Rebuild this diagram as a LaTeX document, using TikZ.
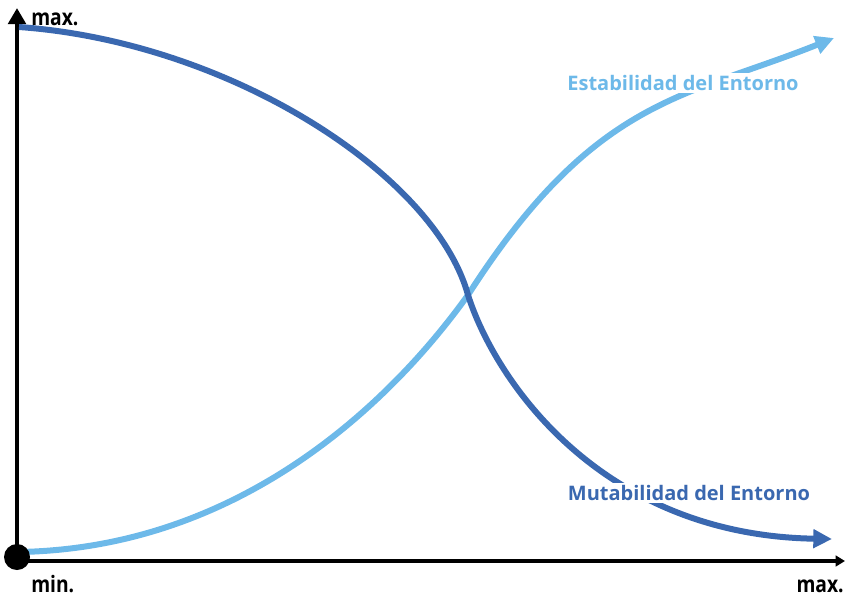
\documentclass[tikz,border=0pt]{standalone}
\usepackage{fontspec}
\setsansfont{Open Sans}
\newfontfamily\axisfont{Open Sans}[FakeStretch=0.85]
\usepackage{tikz}
\usetikzlibrary{arrows.meta}
\definecolor{mutblue}{HTML}{3A68B0}
\definecolor{estblue}{HTML}{6DB9E9}
\tikzset{
  axis line/.style={line width=3.6pt, black},
  curve line/.style={line width=4.5pt},
  axis label/.style={font=\axisfont\bfseries\fontsize{17}{17}\selectfont, inner sep=0pt},
  curve label/.style={font=\sffamily\bfseries\fontsize{15}{15}\selectfont, fill=white, inner sep=2pt},
}

\begin{document}
\begin{tikzpicture}[x=0.75pt, y=-0.75pt]
    \useasboundingbox (0,0) rectangle (846,597);
    % define coordinates
    % axes
    \coordinate (origin) at (17,557);
    \coordinate (axis_corner) at (17,561);
    \coordinate (y_top) at (17,8);
    \coordinate (x_right) at (845,561);
    % curves
    \coordinate (est_start) at (19,552);
    \coordinate (est_end) at (834,38);
    \coordinate (mut_start) at (19,27);
    \coordinate (mut_end) at (832,539);
    \coordinate (cross) at (468,295);
    % draw axes
    \draw[axis line, -{Triangle[length=12pt, width=13pt]}] (axis_corner) -- (y_top);
    \draw[axis line, -{Triangle[length=7pt, width=8pt]}] (axis_corner) -- (x_right);
    % draw curves
    \draw[curve line, estblue, -{Triangle[length=14pt, width=13.5pt]}]
        (est_start) .. controls (250,548) and (400,390) .. (cross)
        .. controls (595,97) and (684,98) .. (est_end);
    \draw[curve line, mutblue, -{Triangle[length=14pt, width=13.5pt]}]
        (mut_start) .. controls (230,42) and (435,175) .. (cross)
        .. controls (495,380) and (600,535) .. (mut_end);
    % draw extra features
    \fill[black] (origin) circle[radius=13];
    % add labels
    \node[curve label, text=estblue] (est_label) at (683,83) {Estabilidad del Entorno};
    \node[curve label, text=mutblue] (mut_label) at (689,493) {Mutabilidad del Entorno};
    \node[axis label, anchor=base west] (y_max) at (31,25) {max.};
    \node[axis label, anchor=base west] (y_min) at (31,592) {min.};
    \node[axis label, anchor=base east] (x_max) at (844,592) {max.};
\end{tikzpicture}
\end{document}
